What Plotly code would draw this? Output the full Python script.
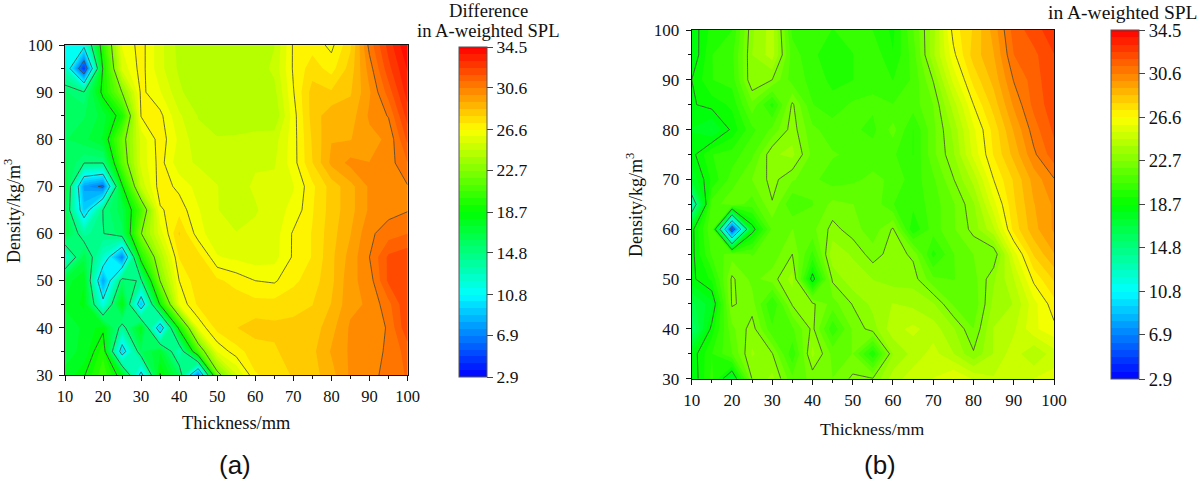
import plotly.graph_objects as go

thickness = list(range(10, 105, 5))
density = list(range(100, 25, -5))

diff_a = [
 [11.0,11.5,20.0,26.0,26.9,25.5,24.4,24.0,24.0,24.0,24.0,24.6,26.7,27.0,26.4,27.8,30.8,32.8,34.5],
 [13.0, 4.5,19.0,25.5,26.9,25.5,24.5,24.1,24.2,24.4,24.2,24.8,26.7,27.6,27.0,28.2,30.2,32.3,33.9],
 [15.5,14.8,19.2,22.7,26.8,26.0,24.8,24.0,24.0,24.0,24.4,24.4,26.55,28.2,28.0,28.5,29.8,31.5,33.5],
 [15.8,16.0,17.0,19.5,26.65,26.8,25.4,24.6,24.1,24.3,24.1,24.0,26.3,28.2,29.0,28.9,30.0,30.6,32.8],
 [16.0,16.5,17.5,22.0,25.5,27.0,25.8,24.8,24.7,24.7,24.9,25.0,26.3,28.0,29.2,29.2,29.7,30.0,32.0],
 [16.2,14.8,14.8,21.5,25.5,26.9,25.5,25.2,25.1,24.8,25.2,25.2,26.3,27.9,29.4,30.1,29.9,30.2,31.2],
 [17.5, 7.9, 6.5,18.5,24.8,27.0,26.4,25.7,25.3,25.0,25.4,25.5,25.9,27.1,28.2,29.0,30.0,30.0,30.5],
 [16.5, 9.3,14.8,16.5,21.0,26.5,27.0,26.0,25.3,25.1,25.2,25.7,26.1,27.2,28.2,29.0,30.0,30.3,30.5],
 [16.8,13.8,14.7,15.8,22.6,25.6,28.0,26.2,25.5,25.3,25.5,25.6,26.7,27.3,28.3,29.2,30.4,30.9,31.2],
 [12.5,16.5,12.5, 7.0,19.6,24.0,27.3,27.6,26.0,25.8,25.6,25.7,26.7,27.3,28.4,29.5,30.55,32.0,32.3],
 [17.0,18.0, 8.0,15.5,14.5,22.7,26.6,27.7,27.4,27.0,26.6,26.5,27.1,27.6,28.4,29.7,30.2,32.0,32.5],
 [17.5,18.2,11.6,18.4, 9.0,19.0,26.0,27.4,27.8,27.7,27.5,27.5,27.7,27.9,28.6,29.7,30.0,31.0,32.5],
 [17.0,17.5,18.4,14.0,18.0, 9.0,19.2,26.0,27.5,27.9,28.2,28.1,28.1,28.2,29.0,30.0,30.0,30.65,32.4],
 [17.2,17.5,19.8, 9.5,16.0,17.3,13.0,21.0,26.0,27.0,27.6,27.8,28.3,28.4,29.3,30.0,30.3,30.65,31.5],
 [17.5,18.6,20.5,18.0,10.0,18.8,16.0, 7.0,22.0,25.2,27.2,27.5,28.0,28.3,29.0,30.0,30.4,30.7,31.3],
]

diff_b = [
 [18.2,19.6,20.0,23.2,24.3,20.5,20.3,20.0,20.2,20.0,19.2,21.3,23.7,26.9,28.0,29.5,31.5,32.2,33.0],
 [18.0,20.0,20.5,23.3,24.3,21.0,20.2,19.5,20.0,20.5,19.4,21.0,23.8,26.4,28.2,29.2,31.2,31.7,32.5],
 [18.7,20.0,20.3,23.3,22.65,21.0,20.5,19.8,20.0,20.5,20.0,20.8,22.7,25.5,27.5,28.8,30.6,31.5,32.5],
 [18.6,19.0,19.5,21.8,19.8,22.8,20.7,20.3,20.8,20.8,20.7,21.0,22.0,24.3,26.6,28.2,30.0,31.4,32.3],
 [18.0,17.3,18.9,20.5,21.5,23.0,21.5,21.0,20.8,20.5,21.6,20.0,21.8,23.5,25.8,27.5,29.3,30.9,32.0],
 [18.4,20.0,20.3,21.2,23.2,23.5,21.8,21.4,21.2,21.0,20.8,20.0,21.8,23.2,25.5,27.3,28.8,30.4,31.6],
 [17.5,19.5,21.0,22.0,22.9,22.1,21.5,21.0,21.2,21.5,21.2,20.3,21.2,22.6,24.2,26.6,28.0,29.5,30.5],
 [13.0,21.0,21.8,21.0,22.6,20.7,21.3,22.2,22.0,21.8,20.7,20.2,21.0,21.9,23.2,25.7,27.8,29.2,30.0],
 [18.4,21.3, 5.0,18.2,21.5,22.0,21.8,22.9,22.3,21.6,22.75,19.5,21.0,21.9,22.9,24.5,27.5,29.0,30.0],
 [18.4,20.8,21.7,21.3,21.6,22.65,20.5,23.8,23.2,22.3,23.0,22.5,19.8,21.3,22.0,22.0,25.6,28.0,29.2],
 [18.5,19.5,22.8,21.8,22.3,23.6,18.2,22.8,23.8,23.3,23.0,23.0,21.5,21.3,21.7,23.2,24.6,26.8,28.0],
 [16.5,17.8,22.75,22.3,20.0,22.75,22.8,21.7,22.7,23.5,24.0,23.8,23.4,21.9,21.5,23.5,24.0,25.7,27.0],
 [15.3,19.0,21.8,23.0,20.8,21.2,22.85,20.2,22.1,23.0,24.4,24.8,24.3,23.4,22.0,24.0,24.5,25.8,26.4],
 [18.2,20.0,21.3,23.4,22.7,20.2,23.5,21.8,22.0,19.5,23.3,24.2,24.9,24.0,22.75,24.0,25.0,24.0,25.0],
 [18.0,20.2,17.5,22.7,23.5,21.5,22.2,22.0,22.8,22.7,24.3,25.0,25.3,26.0,25.2,24.7,24.9,25.3,25.5],
]

bar_ticks = [2.9, 6.9, 10.8, 14.8, 18.7, 22.7, 26.6, 30.6, 34.5]
bar_labels = ["2.9", "6.9", "10.8", "14.8", "18.7", "22.7", "26.6", "30.6", "34.5"]
x_title = "Thickness/mm"
y_title = "Density/kg/m<sup>3</sup>"
bar_title = "in A-weighted SPL"
bar_title_extra = "Difference"
panel_labels = ["(a)", "(b)"]

W, H = 1200, 485
SERIF = "Liberation Serif"
SANS = "Liberation Sans"
INK = "#111"
COLORS = [[0, "#0000ff"], [0.25, "#00ffff"], [0.5, "#00ff00"], [0.75, "#ffff00"], [1, "#ff0000"]]
ZMIN, ZMAX = 2.9, 34.5
BAND = (ZMAX - ZMIN) / 48
LINE_STEP = (ZMAX - ZMIN) / 8

fig = go.Figure()

def add_panel(z, xa, ya, bar_left, bar_top, bar_h, bar_font):
    fig.add_trace(go.Contour(
        x=thickness, y=density, z=z, xaxis=xa, yaxis=ya,
        zmin=ZMIN, zmax=ZMAX, colorscale=COLORS, autocontour=False,
        contours=dict(start=ZMIN, end=ZMAX, size=BAND, coloring="fill", showlines=False),
        line=dict(width=0, smoothing=0), hoverinfo="skip",
        colorbar=dict(
            xref="container", yref="container", x=bar_left / W, y=1 - bar_top / H,
            xanchor="left", yanchor="top", thicknessmode="pixels", thickness=27.5,
            lenmode="pixels", len=bar_h, xpad=0, ypad=0,
            tickmode="array", tickvals=bar_ticks, ticktext=bar_labels,
            ticks="outside", ticklen=6, tickwidth=1, tickcolor="#444",
            outlinecolor="#555", outlinewidth=1, borderwidth=0,
            tickfont=dict(family=SERIF, size=bar_font, color=INK),
        ),
    ))
    fig.add_trace(go.Contour(
        x=thickness, y=density, z=z, xaxis=xa, yaxis=ya,
        autocontour=False, showscale=False,
        contours=dict(start=ZMIN, end=ZMAX, size=LINE_STEP, coloring="none"),
        line=dict(width=1, color="rgba(70,70,60,0.8)", smoothing=0), hoverinfo="skip",
    ))

add_panel(diff_a, "x", "y", 459.3, 47, 330, 17.5)
add_panel(diff_b, "x2", "y2", 1110.5, 30, 349, 18.7)

def axis(dom, anchor, horizontal, size):
    return dict(
        domain=dom, anchor=anchor, range=[10, 100] if horizontal else [30, 100],
        dtick=10, tick0=10, ticks="outside", ticklen=5, tickwidth=1, tickcolor=INK,
        tickangle=0, ticklabelstandoff=1 if horizontal else 3,
        minor=dict(dtick=5, ticks="outside", ticklen=3, tickwidth=1, tickcolor=INK, showgrid=False),
        showline=True, linecolor=INK, linewidth=1, mirror=True, showgrid=False, zeroline=False,
        tickfont=dict(family=SERIF, size=size, color=INK), automargin=False,
    )

fig.update_layout(
    width=W, height=H, margin=dict(l=0, r=0, t=0, b=0, autoexpand=False),
    paper_bgcolor="white", plot_bgcolor="white", showlegend=False,
    xaxis=axis([65 / W, 407.5 / W], "y", True, 16.5),
    yaxis=axis([1 - 375 / H, 1 - 45 / H], "x", False, 16.5),
    xaxis2=axis([691.7 / W, 1054 / W], "y2", True, 17),
    yaxis2=axis([1 - 378.7 / H, 1 - 30 / H], "x2", False, 17),
)

def note(text, px, py, size, family, angle=0):
    fig.add_annotation(text=text, x=px / W, y=1 - py / H, xref="paper", yref="paper",
                       xanchor="center", yanchor="middle", showarrow=False, textangle=angle,
                       font=dict(family=family, size=size, color=INK))

note(bar_title_extra, 488.5, 10, 18.6, SERIF)
note(bar_title, 488.5, 30, 18.6, SERIF)
note(bar_title, 1123, 12, 19.5, SERIF)
note(x_title, 236, 423, 18.4, SERIF)
note(x_title, 872, 429, 17.7, SERIF)
note(y_title, 12, 211, 18, SERIF, -90)
note(y_title, 634, 205, 18, SERIF, -90)
note(panel_labels[0], 235, 465, 26, SANS)
note(panel_labels[1], 880, 465, 26, SANS)

fig.write_html("out.html", config=dict(displayModeBar=False), post_script="document.body.style.margin='0';")
